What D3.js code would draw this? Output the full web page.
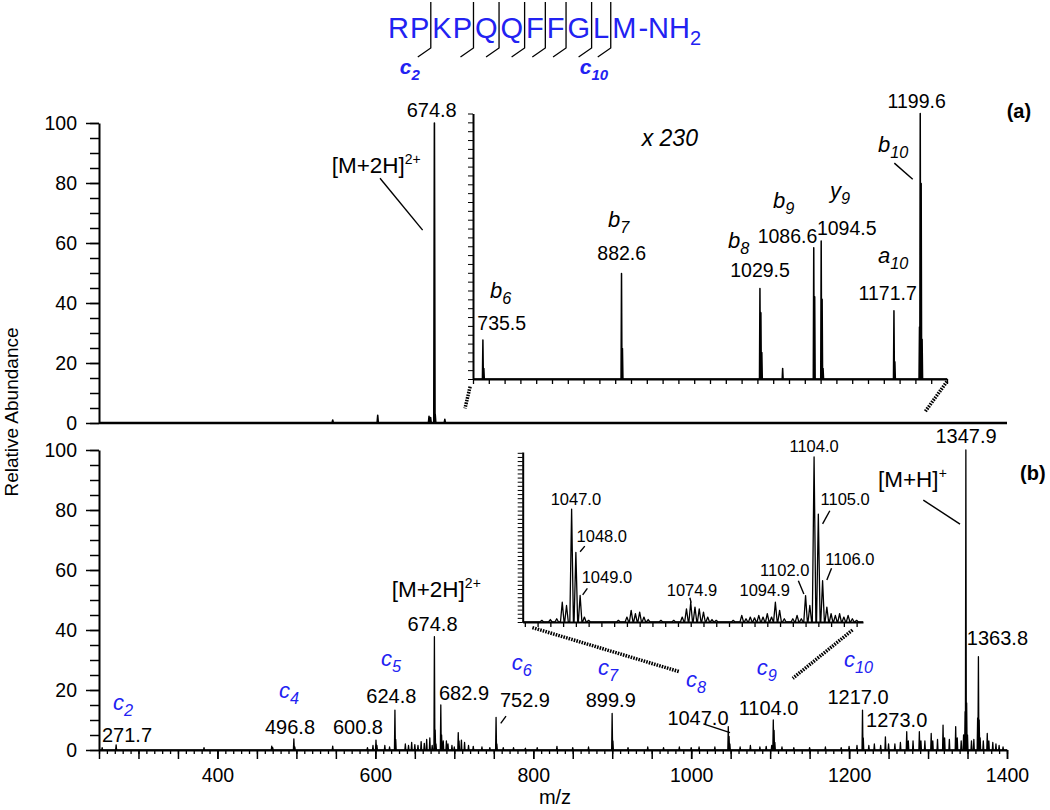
<!DOCTYPE html>
<meta charset="utf-8">
<style>
  body { margin: 0; background: #fff; }
  svg { font-family: Arial, "Liberation Sans", sans-serif; }
</style>
<body>
<div id="chart"></div>
<script src="https://d3js.org/d3.v7.min.js"></script>
<script>

// ---- data (m/z, relative abundance) ----
var residues = ["R", "P", "K", "P", "Q", "Q", "F", "F", "G", "L", "M"];
var cleavages = [2, 4, 5, 6, 7, 8, 9, 10];
var seqIons = [{n: 2, sub: "2"}, {n: 10, sub: "10"}];

var peaksA = [[546, 1], [603, 2.6], [668, 2.2], [670, 1.8], [674.8, 100], [675.8, 3], [688, 1.2]];

// inset of (a), x 230
var peaksInsetA = [[735.5, 14.7], [736.5, 4], [882.6, 39.7], [883.6, 11.5], [1029.5, 34.1], [1030.5, 25],
  [1031.5, 10], [1053.6, 4], [1086.6, 49.4], [1087.6, 31], [1094.5, 52], [1095.5, 30], [1096.5, 4],
  [1171.7, 25.7], [1172.7, 6.5], [1198.8, 19.6], [1199.6, 100], [1200.6, 73.6], [1201.6, 15]];

var peaksB = [[254, 0.8], [271.7, 1.7], [383, 0.8], [468.8, 1.3], [470, 0.8], [496.8, 3.7], [498, 1],
  [546, 1.3], [590, 0.8], [597, 1.5], [600.8, 3.3], [602, 1.5], [612, 1.5], [618, 1], [624.8, 13.3],
  [625.8, 3.5], [638, 2], [642, 1.5], [646, 2.5], [650, 1.8], [654, 1.5], [658, 2.8], [662, 2.2],
  [665, 3.5], [669, 4], [672, 1.5], [674.8, 37.8], [675.8, 6.7], [676.8, 2], [682.9, 15], [683.9, 5],
  [686, 3], [690, 3], [692, 2], [697, 1.5], [700, 1], [705, 5.8], [706, 3], [709, 3.3], [713, 2.5],
  [718, 1.5], [724, 1.2], [735, 1], [745, 0.8], [752.9, 10.9], [753.9, 2], [762, 0.8], [775, 0.8],
  [790, 0.6], [805, 0.8], [830, 1.2], [850, 0.8], [870, 1], [899.9, 12.2], [900.9, 3], [920, 0.8],
  [945, 1], [965, 0.8], [985, 1], [1000, 0.8], [1010, 1], [1030, 1], [1047, 7.8], [1048, 4.5],
  [1049, 2], [1062, 1], [1075, 1.5], [1087, 1], [1095, 1.2], [1102, 1.5], [1104, 10], [1105, 6.5],
  [1106, 2.5], [1115, 1], [1130, 0.8], [1150, 0.8], [1170, 1], [1190, 0.8], [1200, 1.2], [1210, 1.5],
  [1217, 13.3], [1218, 4], [1225, 1.5], [1232, 2], [1240, 1.5], [1246, 4.4], [1250, 2], [1258, 2],
  [1265, 2.5], [1273, 6.1], [1275, 3], [1281, 3], [1289, 6.1], [1291, 3], [1296, 3], [1304, 5.5],
  [1306, 3], [1312, 3.5], [1319, 8.3], [1321, 4], [1327, 3.5], [1335, 7.8], [1337, 4], [1342, 3],
  [1345, 5], [1346.9, 12.8], [1347.9, 100], [1348.9, 15.7], [1350, 5], [1355, 3], [1358, 3.5],
  [1362.8, 10.7], [1363.8, 31.1], [1364.8, 10], [1366, 4], [1370, 3], [1375, 5.5], [1377, 3],
  [1382, 2.5], [1386, 2], [1390, 1.5], [1395, 1]];

// inset of (b)
var peaksInsetB = [[1040, 1], [1042, 1.5], [1043.5, 2], [1044.8, 12], [1045.8, 10], [1047, 68.4],
  [1048, 42.2], [1049, 16.1], [1050, 3], [1051, 1], [1058, 1], [1060, 3], [1061, 7], [1062, 5],
  [1063, 6], [1064, 3], [1065, 1.5], [1068, 1], [1071, 1], [1073, 3], [1074, 8], [1075, 12], [1076, 9],
  [1077, 8], [1078, 6], [1079, 3], [1080, 1.5], [1081, 1], [1085, 1], [1087, 4], [1088, 2], [1089, 3],
  [1090, 2.5], [1091, 4], [1092, 3], [1093, 5], [1094, 3], [1094.9, 12], [1095.9, 7], [1097, 2],
  [1099, 2], [1100, 4], [1101, 2], [1102, 16], [1103, 10], [1104, 100], [1105, 65.4], [1106, 25],
  [1107, 9], [1108, 5], [1109, 4], [1110, 5], [1111, 3], [1112, 4], [1113, 2], [1114, 1]];

// ---- annotations (anchored in data units of their panel) ----
var labelsA = [{t: "674.8", mz: 671.4, v: 102.1}];
var adductsA = [{t: "[M+2H]", sup: "2+", mz: 544.7, v: 83.2}];
var leadersA = [[[605.9, 81.6], [659.9, 64.3]]];

var labelsInsetA = [{t: "735.5", mz: 755.5, v: 18.4}, {t: "882.6", mz: 882.8, v: 44.7},
  {t: "1029.5", mz: 1029.6, v: 38.5}, {t: "1086.6", mz: 1058.7, v: 51.1}, {t: "1094.5", mz: 1121.6, v: 54.1},
  {t: "1171.7", mz: 1165.1, v: 29.7}, {t: "1199.6", mz: 1195.8, v: 102.0}];
var ionsInsetA = [{ion: "b", sub: "6", mz: 743, v: 30.5}, {ion: "b", sub: "7", mz: 868.3, v: 57.3},
  {ion: "b", sub: "8", mz: 995.6, v: 49.2}, {ion: "b", sub: "9", mz: 1043.4, v: 64.3},
  {ion: "y", sub: "9", mz: 1103.8, v: 68}, {ion: "a", sub: "10", mz: 1154.8, v: 43.6},
  {ion: "b", sub: "10", mz: 1154.8, v: 85.5}];
var leadersInsetA = [[[1172.1, 81.3], [1191.6, 75.2]]];

var labelsB = [{t: "271.7", mz: 285.5, v: 2.8}, {t: "496.8", mz: 491.9, v: 5.3}, {t: "600.8", mz: 578, v: 5.3},
  {t: "624.8", mz: 620.2, v: 15.6}, {t: "674.8", mz: 672.4, v: 39.8}, {t: "682.9", mz: 712.3, v: 16.7},
  {t: "752.9", mz: 789.5, v: 14.4}, {t: "899.9", mz: 898.2, v: 14.4}, {t: "1047.0", mz: 1008.6, v: 8.3},
  {t: "1104.0", mz: 1097.9, v: 11.7}, {t: "1217.0", mz: 1211.3, v: 15.3}, {t: "1273.0", mz: 1260.3, v: 7.8},
  {t: "1347.9", mz: 1348.1, v: 102.2}, {t: "1363.8", mz: 1387.9, v: 35}];
var ionsB = [{ion: "c", sub: "2", mz: 267.7, v: 13.3}, {ion: "c", sub: "4", mz: 478, v: 17.2},
  {ion: "c", sub: "5", mz: 607.2, v: 28}, {ion: "c", sub: "6", mz: 772.7, v: 26.7},
  {ion: "c", sub: "7", mz: 882, v: 25}, {ion: "c", sub: "8", mz: 993.4, v: 21.1},
  {ion: "c", sub: "9", mz: 1083, v: 25}, {ion: "c", sub: "10", mz: 1193.5, v: 27.8}];
var adductsB = [{t: "[M+2H]", sup: "2+", mz: 620.7, v: 50.9}, {t: "[M+H]", sup: "+", mz: 1236.6, v: 87.6}];
var leadersB = [[[758.8, 8.9], [765.5, 11.3]], [[1015.4, 8.7], [1049.2, 5.8]], [[1294, 83.3], [1340.5, 75.3]]];

var labelsInsetB = [{t: "1104.0", mz: 1104, v: 103.2}, {t: "1047.0", mz: 1048, v: 70.9},
  {t: "1048.0", mz: 1054.1, v: 48.7}, {t: "1049.0", mz: 1055.3, v: 23.8}, {t: "1074.9", mz: 1075.3, v: 15.8},
  {t: "1094.9", mz: 1092.4, v: 15.8}, {t: "1102.0", mz: 1097.1, v: 27.9}, {t: "1105.0", mz: 1111.3, v: 70.9},
  {t: "1106.0", mz: 1112.4, v: 34.5}];
var leadersInsetB = [[[1049, 42.6], [1050.1, 46]], [[1049.6, 16.4], [1050.7, 20.4]], [[1074.8, 14.7], [1075.1, 11.7]],
  [[1100.3, 25], [1101.6, 17]], [[1107.7, 67.4], [1106, 59.4]], [[1108.1, 32.5], [1107, 25.4]]];

// dotted zoom connectors, in main-panel data units
var linksA = [[[720, 12.1], [713.6, 4.9]], [[1323.9, 13.8], [1296.4, 3.8]]];
var linksB = [[[798.9, 40.8], [985.1, 26.1]], [[1204.3, 40], [1128.7, 23.9]]];

var xTicks = [400, 600, 800, 1000, 1200, 1400];
var yTicks = [0, 20, 40, 60, 80, 100];

var blue = "#2222f2";

// ---- scales ----
var x = d3.scaleLinear().domain([250, 1400]).range([99, 1007]);
var yA = d3.scaleLinear().domain([0, 100]).range([423, 123]);
var yB = d3.scaleLinear().domain([0, 100]).range([750, 450]);
var xIA = d3.scaleLinear().domain([725, 1228]).range([473, 947]);
var yIA = d3.scaleLinear().domain([0, 100]).range([379, 113.5]);
var xIB = d3.scaleLinear().domain([1035.5, 1115.5]).range([522.7, 863]);
var yIB = d3.scaleLinear().domain([0, 103]).range([622, 452]);

var svg = d3.select("#chart").append("svg")
    .attr("width", 1050)
    .attr("height", 810);

// turn a peak list into a stick/profile trace
function profile(peaks, lo, hi, hw) {
  var pts = [[lo, 0]];
  peaks.slice().sort(function (a, b) { return a[0] - b[0]; }).forEach(function (p) {
    pts.push([p[0] - hw, 0], [p[0], p[1]], [p[0] + hw, 0]);
  });
  pts.push([hi, 0]);
  return pts;
}

function trace(xs, ys, peaks, hw, sw) {
  var line = d3.line().x(function (d) { return xs(d[0]); }).y(function (d) { return ys(d[1]); });
  svg.append("path")
      .attr("d", line(profile(peaks, xs.domain()[0], xs.domain()[1], hw)))
      .attr("fill", "none")
      .attr("stroke", "#000")
      .attr("stroke-width", sw)
      .attr("stroke-linejoin", "round");
}

function labels(xs, ys, data, size) {
  svg.append("g").selectAll("text")
      .data(data)
      .enter().append("text")
      .attr("x", function (d) { return xs(d.mz); })
      .attr("y", function (d) { return ys(d.v); })
      .attr("text-anchor", "middle")
      .attr("font-size", size)
      .text(function (d) { return d.t; });
}

function ionLabels(xs, ys, data, size, color) {
  var t = svg.append("g").selectAll("text")
      .data(data)
      .enter().append("text")
      .attr("x", function (d) { return xs(d.mz); })
      .attr("y", function (d) { return ys(d.v); })
      .attr("font-style", "italic")
      .attr("fill", color);
  t.append("tspan").attr("font-size", size).text(function (d) { return d.ion; });
  t.append("tspan").attr("font-size", size * 0.74).attr("dy", 6).text(function (d) { return d.sub; });
}

function adducts(xs, ys, data) {
  var t = svg.append("g").selectAll("text")
      .data(data)
      .enter().append("text")
      .attr("x", function (d) { return xs(d.mz); })
      .attr("y", function (d) { return ys(d.v); });
  t.append("tspan").attr("font-size", 22.5).text(function (d) { return d.t; });
  t.append("tspan").attr("font-size", 14).attr("dy", -9).text(function (d) { return d.sup; });
}

function leaders(xs, ys, data, dotted) {
  svg.append("g").selectAll("line")
      .data(data)
      .enter().append("line")
      .attr("x1", function (d) { return xs(d[0][0]); })
      .attr("y1", function (d) { return ys(d[0][1]); })
      .attr("x2", function (d) { return xs(d[1][0]); })
      .attr("y2", function (d) { return ys(d[1][1]); })
      .attr("stroke", "#000")
      .attr("stroke-width", dotted ? 3.5 : 1.4)
      .attr("stroke-dasharray", dotted ? "1.6,1.1" : null);
}

function yAxis(ys) {
  svg.append("g")
      .attr("transform", "translate(99,0)")
      .call(d3.axisLeft(ys).tickValues(d3.range(0, 101, 5)).tickSize(9).tickFormat(""))
      .call(function (g) { g.select(".domain").remove(); })
      .selectAll("line").attr("stroke-width", 1.5);
  var g = svg.append("g")
      .attr("transform", "translate(99,0)")
      .call(d3.axisLeft(ys).tickValues(yTicks).tickSize(13).tickSizeOuter(0).tickPadding(9))
      .attr("font-family", null)
      .attr("font-size", 19.5);
  g.select(".domain").attr("stroke-width", 2);
  g.selectAll("line").attr("stroke-width", 1.5);
}

function insetAxes(xs, ys, xt, yt) {
  var gy = svg.append("g")
      .attr("transform", "translate(" + xs.range()[0] + ",0)")
      .call(d3.axisLeft(ys).tickValues(yt).tickSize(5).tickSizeOuter(0).tickFormat(""));
  gy.select(".domain").attr("stroke-width", 2);
  var gx = svg.append("g")
      .attr("transform", "translate(0," + ys(0) + ")")
      .call(d3.axisBottom(xs).tickValues(xt).tickSize(5).tickSizeOuter(0).tickFormat(""));
  gx.select(".domain").attr("stroke-width", 2);
  gx.selectAll("line").attr("stroke-width", 1.3);
}

// ---- peptide sequence with c-ion cleavage marks ----
var seq = svg.append("g").attr("fill", blue).attr("font-size", 29);
var cx = 388, bounds = [];
residues.forEach(function (r, i) {
  var t = seq.append("text").attr("x", cx).attr("y", 38).text(r);
  cx += t.node().getComputedTextLength();
  if (cleavages.indexOf(i + 1) >= 0) { bounds.push(cx + 1.5); cx += 3; } else { cx += 1; }
});
var tail = seq.append("text").attr("x", cx + 1).attr("y", 38);
tail.append("tspan").text("-NH");
tail.append("tspan").attr("font-size", 20).attr("dy", 7).text("2");

svg.append("g").selectAll("path")
    .data(bounds)
    .enter().append("path")
    .attr("d", function (b) { return "M" + b + ",2V48L" + (b - 13) + ",57"; })
    .attr("fill", "none")
    .attr("stroke", "#000")
    .attr("stroke-width", 1.3);

var sl = svg.append("g").selectAll("text")
    .data(seqIons)
    .enter().append("text")
    .attr("x", function (d) { return bounds[cleavages.indexOf(d.n)] - 31; })
    .attr("y", 74)
    .attr("font-style", "italic")
    .attr("font-weight", "bold")
    .attr("fill", blue);
sl.append("tspan").attr("font-size", 21).text("c");
sl.append("tspan").attr("font-size", 15).attr("dy", 6).text(function (d) { return d.sub; });

// ---- panel (a) ----
yAxis(yA);
trace(x, yA, peaksA, 0.8, 1.6);
svg.append("line")
    .attr("x1", x(250)).attr("x2", x(1400))
    .attr("y1", yA(0)).attr("y2", yA(0))
    .attr("stroke", "#000").attr("stroke-width", 2.5);
labels(x, yA, labelsA, 20);
adducts(x, yA, adductsA);
leaders(x, yA, leadersA, false);
leaders(x, yA, linksA, true);
svg.append("text").attr("x", x(1399.6)).attr("y", yA(101.7))
    .attr("font-size", 20).attr("font-weight", "bold").text("(a)");

// inset (a)
insetAxes(xIA, yIA, d3.range(31).map(function (i) { return 725 + i * 503 / 30; }),
    d3.range(0, 100.1, 100 / 30));
trace(xIA, yIA, peaksInsetA, 0.5, 1.5);
labels(xIA, yIA, labelsInsetA, 19.5);
ionLabels(xIA, yIA, ionsInsetA, 22, "#000");
leaders(xIA, yIA, leadersInsetA, false);
svg.append("text").attr("x", xIA(904)).attr("y", yIA(87.7))
    .attr("font-size", 23).attr("font-style", "italic").text("x 230");

// ---- panel (b) ----
yAxis(yB);
var gxm = svg.append("g")
    .attr("transform", "translate(0," + yB(0) + ")")
    .call(d3.axisBottom(x).tickValues(d3.range(250, 1401, 10)).tickSize(4).tickSizeOuter(0).tickFormat(""));
gxm.select(".domain").remove();
gxm.selectAll("line").attr("stroke-width", 1.3);
svg.append("g")
    .attr("transform", "translate(0," + yB(0) + ")")
    .call(d3.axisBottom(x).tickValues(d3.range(250, 1401, 50)).tickSize(9).tickSizeOuter(0).tickFormat(""))
    .call(function (g) { g.select(".domain").remove(); })
    .selectAll("line").attr("stroke-width", 1.5);
var gxb = svg.append("g")
    .attr("transform", "translate(0," + yB(0) + ")")
    .call(d3.axisBottom(x).tickValues(xTicks).tickSize(9).tickSizeOuter(0).tickPadding(9).tickFormat(d3.format("d")))
    .attr("font-family", null)
    .attr("font-size", 19.5);
gxb.select(".domain").attr("stroke-width", 2.2);
gxb.selectAll("line").attr("stroke-width", 1.5);

trace(x, yB, peaksB, 0.6, 1.3);
labels(x, yB, labelsB, 20);
ionLabels(x, yB, ionsB, 22, blue);
adducts(x, yB, adductsB);
leaders(x, yB, leadersB, false);
leaders(x, yB, linksB, true);
svg.append("text").attr("x", x(1416.5)).attr("y", yB(90))
    .attr("font-size", 20).attr("font-weight", "bold").text("(b)");

// inset (b)
insetAxes(xIB, yIB, d3.range(1036, 1116, 3), d3.range(0, 103, 2.5));
trace(xIB, yIB, peaksInsetB, 0.42, 1.3);
labels(xIB, yIB, labelsInsetB, 16.5);
leaders(xIB, yIB, leadersInsetB, false);

// ---- axis titles ----
svg.append("text")
    .attr("transform", "translate(18,412) rotate(-90)")
    .attr("text-anchor", "middle")
    .attr("font-size", 19)
    .text("Relative Abundance");
svg.append("text")
    .attr("x", 555).attr("y", 804)
    .attr("text-anchor", "middle")
    .attr("font-size", 20)
    .text("m/z");

</script>
</body>
